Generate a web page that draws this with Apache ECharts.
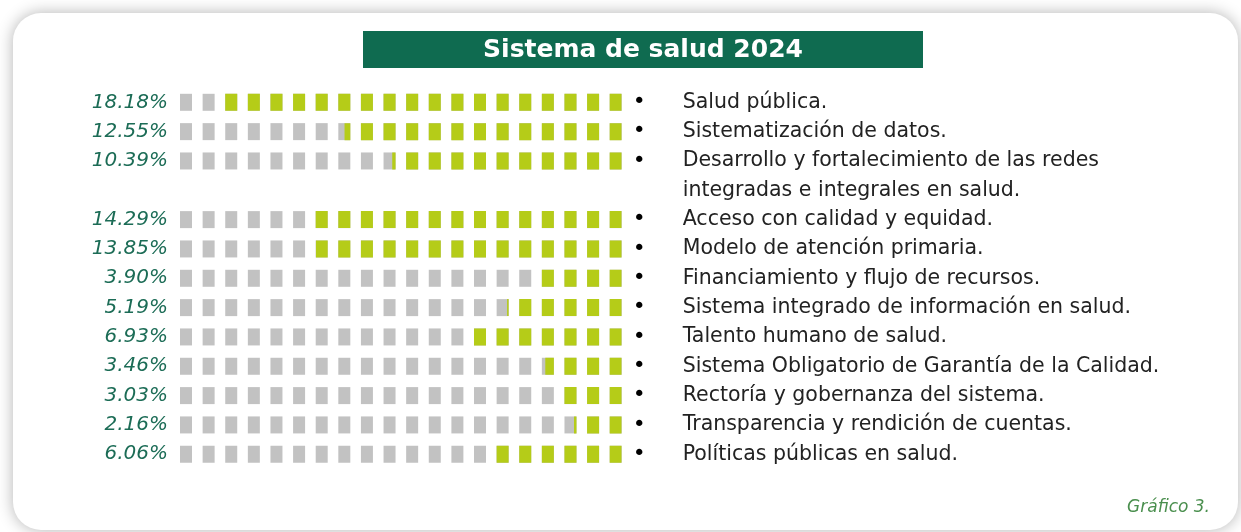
<!DOCTYPE html>
<html>
<head>
<meta charset="utf-8">
<script src="https://cdn.jsdelivr.net/npm/echarts@6/dist/echarts.min.js"></script>
<style>
html,body{margin:0;padding:0;background:#fff;}
#chart{width:1241px;height:532px;}
</style>
</head>
<body>
<div id="chart"></div>
<script>
// ---- data ----
var titleText = 'Sistema de salud 2024';
var sourceText = 'Gráfico 3.';
var categories = [
  'Salud pública.',
  'Sistematización de datos.',
  'Desarrollo y fortalecimiento de las redes\nintegradas e integrales en salud.',
  'Acceso con calidad y equidad.',
  'Modelo de atención primaria.',
  'Financiamiento y flujo de recursos.',
  'Sistema integrado de información en salud.',
  'Talento humano de salud.',
  'Sistema Obligatorio de Garantía de la Calidad.',
  'Rectoría y gobernanza del sistema.',
  'Transparencia y rendición de cuentas.',
  'Políticas públicas en salud.'
];
var values = [18.18, 12.55, 10.39, 14.29, 13.85, 3.90, 5.19, 6.93, 3.46, 3.03, 2.16, 6.06];
var squaresPerRow = 20; // one square = 1 %

// ---- build slots (a wrapped label continues on an extra row) ----
var slotNames = [], slotLeft = [], slotRight = [], slotBg = [], slotVal = [];
categories.forEach(function (name, i) {
  var lines = name.split('\n');
  lines.forEach(function (ln, k) {
    slotNames.push('s' + slotNames.length);
    if (k === 0) {
      slotLeft.push(values[i].toFixed(2) + '%');
      slotRight.push('{b|•}{t|' + ln + '}');
      slotBg.push(squaresPerRow);
      slotVal.push(values[i]);
    } else {
      slotLeft.push('');
      slotRight.push('{b|}{t|' + ln + '}');
      slotBg.push('-');
      slotVal.push('-');
    }
  });
});

var chart = echarts.init(document.getElementById('chart'), null, {renderer: 'canvas'});
var gridLeft = 180, gridRight = 1241 - 621.7;
var rowPitch = 29.33;
var gridTop = 102.3 - rowPitch / 2;
var gridHeight = rowPitch * slotNames.length;

var option = {
  animation: false,
  backgroundColor: '#ffffff',
  graphic: [
    {type: 'rect', z: -10, shape: {x: 13, y: 13, width: 1225, height: 517, r: 28},
      style: {fill: '#ffffff', shadowBlur: 16, shadowColor: 'rgba(0,0,0,0.3)', shadowOffsetX: 0, shadowOffsetY: 0}},
    {type: 'rect', z: 5, shape: {x: 363, y: 31, width: 560, height: 37},
      style: {fill: '#0f6b50'}},
    {type: 'text', z: 6, x: 643, y: 50,
      style: {text: titleText, fill: '#ffffff', font: 'bold 25px "DejaVu Sans"', textAlign: 'center', textVerticalAlign: 'middle'}},
    {type: 'text', z: 6, x: 1210, y: 508,
      style: {text: sourceText, fill: '#4a8f4e', font: 'italic 17px "DejaVu Sans"', textAlign: 'right', textVerticalAlign: 'middle'}}
  ],
  grid: {left: gridLeft, right: gridRight, top: gridTop, height: gridHeight},
  xAxis: {type: 'value', min: 0, max: squaresPerRow, inverse: true, show: false},
  yAxis: [
    {type: 'category', data: slotNames, inverse: true, position: 'left',
      axisLine: {show: false}, axisTick: {show: false}, splitLine: {show: false},
      axisLabel: {margin: 12, color: '#1c6c56', fontFamily: 'DejaVu Sans', fontStyle: 'italic', fontSize: 20,
        formatter: function (v, idx) { return slotLeft[idx]; }}},
    {type: 'category', data: slotNames, inverse: true, position: 'right',
      axisLine: {show: false}, axisTick: {show: false}, splitLine: {show: false},
      axisLabel: {margin: 11, align: 'left',
        formatter: function (v, idx) { return slotRight[idx]; },
        rich: {
          b: {width: 50, fontSize: 22, color: '#000', fontFamily: 'DejaVu Sans'},
          t: {fontSize: 20.5, color: '#222', fontFamily: 'DejaVu Sans'}
        }}}
  ],
  series: [
    {type: 'pictorialBar', name: 'base', yAxisIndex: 0, data: slotBg,
      symbol: 'rect', symbolSize: [12, 17], symbolRepeat: squaresPerRow, symbolBoundingData: squaresPerRow,
      itemStyle: {color: '#c2c2c2'}, barGap: '-100%', z: 2, silent: true},
    {type: 'pictorialBar', name: 'valor', yAxisIndex: 0, data: slotVal,
      symbol: 'rect', symbolSize: [12, 17], symbolRepeat: squaresPerRow, symbolBoundingData: squaresPerRow,
      symbolClip: true, itemStyle: {color: '#b5cc18'}, barGap: '-100%', z: 3}
  ]
};
chart.setOption(option);
</script>
</body>
</html>
